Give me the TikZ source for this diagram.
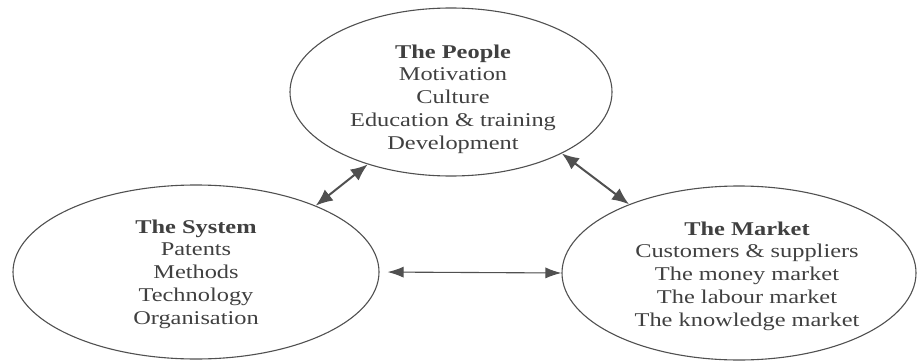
\documentclass[tikz,border=0pt]{standalone}
\usepackage{fontspec}
\setmainfont{Liberation Serif}[FakeStretch=1.25]
\usepackage{tikz}
\usetikzlibrary{shapes.geometric}
\usetikzlibrary{arrows.meta}

\definecolor{inkline}{HTML}{505050}
\definecolor{inktext}{HTML}{404040}

\tikzset{
    sphere/.style={ellipse, draw=inkline, line width=1.1pt, inner sep=0pt},
    label text/.style={align=center, text=inktext, font=\fontsize{19.5}{22.7}\selectfont},
    link/.style={{Latex[length=17pt,width=14pt]}-{Latex[length=17pt,width=14pt]}, draw=inkline, fill=inkline, line width=2pt},
    flat link/.style={{Latex[length=16pt,width=11pt]}-{Latex[length=16pt,width=11pt]}, draw=inkline, fill=inkline, line width=1.1pt}
}

\begin{document}
\begin{tikzpicture}[x=1pt,y=1pt]
    \useasboundingbox (0,0) rectangle (918,360);
    % the three circles
    \node[sphere, minimum width=322pt, minimum height=168pt] (people) at (451,268) {};
    \node[sphere, minimum width=366pt, minimum height=174pt] (system) at (196,88) {};
    \node[sphere, minimum width=354pt, minimum height=174pt] (market) at (739,87) {};
    % what is in them
    \node[label text] (peopletext) at (453,261) {\textbf{The People}\\Motivation\\Culture\\Education \& training\\Development};
    \node[label text] (systemtext) at (196,86) {\textbf{The System}\\Patents\\Methods\\Technology\\Organisation};
    \node[label text] (markettext) at (747,84) {\textbf{The Market}\\Customers \& suppliers\\The money market\\The labour market\\The knowledge market};
    % links
    \draw[link] (people.221) -- (system.29);
    \draw[link] (people.331) -- (market.148);
    \draw[flat link, shorten <=8pt] (system.east) -- (market.west);
\end{tikzpicture}
\end{document}
